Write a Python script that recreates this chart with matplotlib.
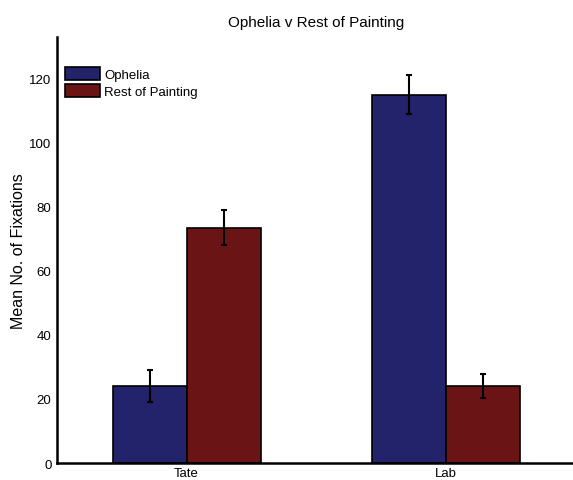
import matplotlib
matplotlib.use("Agg")
import matplotlib.pyplot as plt
import numpy as np

plt.rcParams['font.family'] = ['Liberation Sans', 'DejaVu Sans']

categories = ["Tate", "Lab"]
series_names = ["Ophelia", "Rest of Painting"]
ophelia = [24, 115]
ophelia_err = [5, 6]
rest = [73.5, 24]
rest_err = [5.6, 3.8]
colors = ["#22236a", "#6a1416"]

fig = plt.figure(figsize=(5.73, 4.81), dpi=100)
ax = fig.add_axes([0.0995, 0.0353, 0.905, 0.886])

x = np.arange(1, len(categories) + 1)
w = 2 / 3.5 / 2
ax.bar(x - w / 2, ophelia, w, color=colors[0], edgecolor="black", linewidth=1.2, label=series_names[0])
ax.bar(x + w / 2, rest, w, color=colors[1], edgecolor="black", linewidth=1.2, label=series_names[1])
ax.errorbar(x - w / 2, ophelia, yerr=ophelia_err, fmt="none", ecolor="black", elinewidth=1.5, capsize=2.5, capthick=1.5)
ax.errorbar(x + w / 2, rest, yerr=rest_err, fmt="none", ecolor="black", elinewidth=1.5, capsize=2.5, capthick=1.5)

ax.set_xlim(0.5, 2.5)
ax.set_ylim(0, 133)
ax.set_yticks([0, 20, 40, 60, 80, 100, 120])
ax.set_xticks(x)
ax.set_xticklabels(categories)
ax.tick_params(axis="both", length=0, labelsize=9.5)
ax.tick_params(axis="y", pad=4)
ax.tick_params(axis="x", pad=3)
for s in ["top", "right"]:
    ax.spines[s].set_visible(False)
for s in ["left", "bottom"]:
    ax.spines[s].set_linewidth(1.8)

ax.set_ylabel("Mean No. of Fixations", fontsize=11.5, labelpad=2)
ax.set_title("Ophelia v Rest of Painting", fontsize=11, pad=8)

leg = ax.legend(loc="upper left", bbox_to_anchor=(0.0155, 0.93), frameon=False, fontsize=9.5,
                handlelength=2.65, handleheight=1.14, handletextpad=0.3, labelspacing=0.25,
                borderpad=0, borderaxespad=0)

fig.savefig("out.png", dpi=100)
